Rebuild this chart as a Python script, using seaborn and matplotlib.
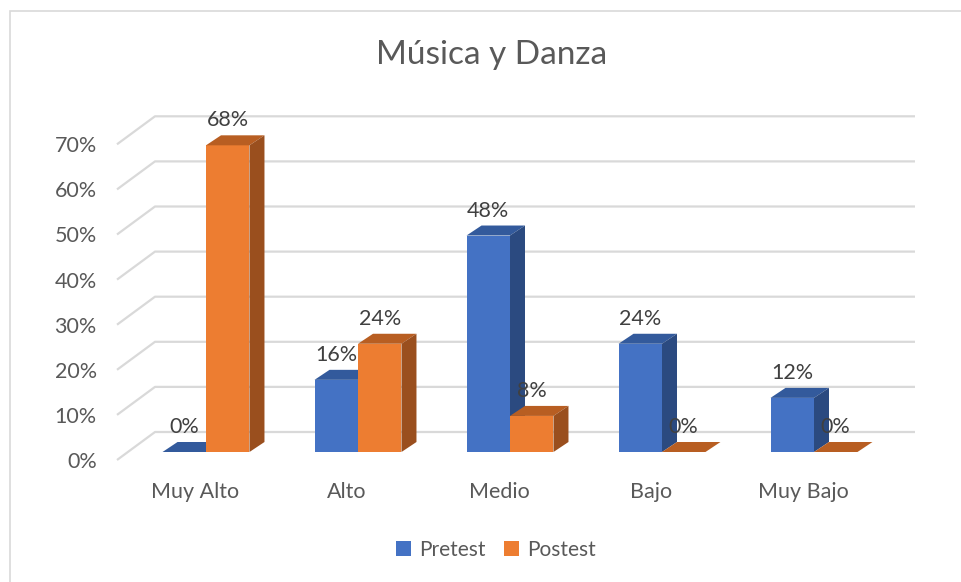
import numpy as np
import pandas as pd
import seaborn as sns
import matplotlib.pyplot as plt
import matplotlib.transforms as mtransforms
from matplotlib.patches import Polygon, Patch, Rectangle

# Datos del gráfico
niveles = ["Muy Alto", "Alto", "Medio", "Bajo", "Muy Bajo"]
pretest = [0, 16, 48, 24, 12]
postest = [68, 24, 8, 0, 0]
grupos = ["Pretest", "Postest"]
yticks = [0, 10, 20, 30, 40, 50, 60, 70]
titulo = "Música y Danza"

# Colores estilo Excel: frente, tapa, lateral
colores = {
    "Pretest": ("#4472C4", "#335A9C", "#2B4A80"),
    "Postest": ("#ED7D31", "#B85E22", "#9A4F1E"),
}

df = pd.DataFrame({
    "nivel": niveles * 2,
    "valor": pretest + postest,
    "grupo": [grupos[0]] * len(niveles) + [grupos[1]] * len(niveles),
})

sns.set_theme(style="white")
plt.rcParams["font.family"] = ["Lato", "DejaVu Sans"]

W, H = 961, 582
fig = plt.figure(figsize=(W / 100, H / 100), dpi=100)

# geometría en píxeles (vista 3D tipo Excel)
px_cat = 152.0      # ancho de cada categoría
cx0 = 206.0         # centro del primer grupo
base_y = 452.0      # base de las barras
px_pct = 4.51       # píxeles por punto porcentual
xlim = (-0.6, 4.7)
ylim = (-3, 76)
left = cx0 + xlim[0] * px_cat
right = cx0 + xlim[1] * px_cat
bottom = base_y - ylim[0] * px_pct
top = base_y - ylim[1] * px_pct
ax = fig.add_axes([left / W, (H - bottom) / H, (right - left) / W, (bottom - top) / H])

sns.barplot(data=df, x="nivel", y="valor", hue="grupo", order=niveles,
            hue_order=grupos, palette=[colores[g][0] for g in grupos],
            width=0.572, saturation=1, legend=False, ax=ax, zorder=2)
ax.set_xlim(*xlim)
ax.set_ylim(*ylim)

# conversión px -> datos
dxu = 1.0 / px_cat
dyu = 1.0 / px_pct

# paredes / líneas de cuadrícula
grid_col = "#D9D9D9"
back_dx, back_dy = 155.0, 20.0
for v in yticks:
    xa = xlim[0] + (back_dx - left) * dxu
    xb = xlim[0] + (915.0 - left) * dxu
    xf = xlim[0] + (117.0 - left) * dxu
    ax.plot([xf, xa, xb], [v - 8 * dyu, v + back_dy * dyu, v + back_dy * dyu],
            color=grid_col, lw=1.6, zorder=0, clip_on=False, solid_capstyle="butt")

# caras 3D de las barras
depth_x, depth_y = 15 * dxu, 10 * dyu
n = len(niveles)
for i, p in enumerate(ax.patches[:2 * n]):
    g = grupos[i // n]
    front, top_c, side_c = colores[g]
    z = 2 + (i // n) * 0.5
    p.set_zorder(z)
    p.set_edgecolor("none")
    x, w, h = p.get_x(), p.get_width(), p.get_height()
    tapa = Polygon([(x, h), (x + w, h), (x + w + depth_x, h + depth_y), (x + depth_x, h + depth_y)],
                   closed=True, facecolor=top_c, edgecolor="none", zorder=z + 0.1, clip_on=False)
    lado = Polygon([(x + w, 0), (x + w, h), (x + w + depth_x, h + depth_y), (x + w + depth_x, depth_y)],
                   closed=True, facecolor=side_c, edgecolor="none", zorder=z + 0.1, clip_on=False)
    ax.add_patch(tapa)
    ax.add_patch(lado)
    ax.annotate(f"{int(round(h))}%", (x + w / 2, h), xytext=(0, 18), textcoords="offset points",
                ha="center", va="center", fontsize=15.5, color="#404040", zorder=5)

# ejes
sns.despine(ax=ax, left=True, bottom=True)
ax.set_xlabel("")
ax.set_ylabel("")
ax.set_yticks(yticks)
ax.set_yticklabels([f"{v}%" for v in yticks], fontsize=15.5, color="#595959")
ax.tick_params(axis="y", length=0, pad=13)
ax.tick_params(axis="x", length=0, pad=11.5, labelsize=15.5, labelcolor="#595959")
ax.grid(False)
off_y = mtransforms.ScaledTranslation(0, -8 / 100, fig.dpi_scale_trans)
for lab in ax.get_yticklabels():
    lab.set_transform(lab.get_transform() + off_y)
off_x = mtransforms.ScaledTranslation(-11 / 100, 0, fig.dpi_scale_trans)
for lab in ax.get_xticklabels():
    lab.set_transform(lab.get_transform() + off_x)

fig.text(492 / W, 1 - 55 / H, titulo, ha="center", va="center", fontsize=24, color="#595959")

handles = [Patch(facecolor=colores[g][0], edgecolor="none", label=g) for g in grupos]
fig.legend(handles=handles, loc="center", bbox_to_anchor=(496 / W, 1 - 550 / H), ncol=2,
           frameon=False, fontsize=15, labelcolor="#595959", handlelength=0.7,
           handleheight=0.7, handletextpad=0.4, columnspacing=0.9)

# marco del gráfico
fig.patches.append(Rectangle((9.5 / W, -0.1), 1.2, 1.1 - 10.5 / H, transform=fig.transFigure,
                             fill=False, edgecolor="#D9D9D9", lw=1.2))

fig.savefig("out.png", dpi=100)
